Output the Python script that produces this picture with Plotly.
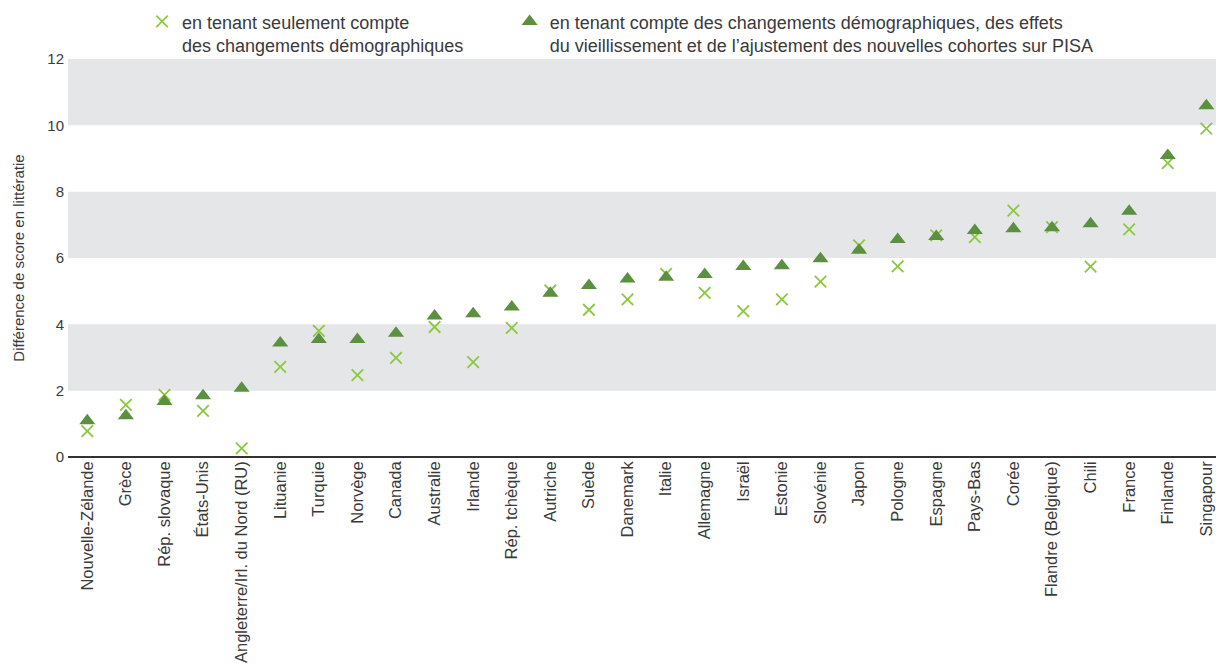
import plotly.graph_objects as go

countries = ["Nouvelle-Zélande", "Grèce", "Rép. slovaque", "États-Unis", "Angleterre/Irl. du Nord (RU)",
             "Lituanie", "Turquie", "Norvège", "Canada", "Australie", "Irlande", "Rép. tchèque",
             "Autriche", "Suède", "Danemark", "Italie", "Allemagne", "Israël", "Estonie", "Slovénie",
             "Japon", "Pologne", "Espagne", "Pays-Bas", "Corée", "Flandre (Belgique)", "Chili",
             "France", "Finlande", "Singapour"]

demo_only = [0.78, 1.57, 1.87, 1.39, 0.26, 2.72, 3.80, 2.47, 2.99, 3.92, 2.86, 3.89,
             5.02, 4.44, 4.75, 5.52, 4.95, 4.40, 4.75, 5.29, 6.38, 5.75, 6.68, 6.63,
             7.43, 6.93, 5.74, 6.86, 8.86, 9.90]
full_adj = [1.09, 1.24, 1.67, 1.85, 2.07, 3.44, 3.54, 3.54, 3.73, 4.25, 4.32, 4.52,
            4.94, 5.17, 5.37, 5.42, 5.50, 5.74, 5.77, 5.98, 6.23, 6.56, 6.65, 6.83,
            6.88, 6.91, 7.03, 7.41, 9.09, 10.59]

name_demo = "en tenant seulement compte<br>des changements démographiques"
name_full = ("en tenant compte des changements démographiques, des effets<br>"
             "du vieillissement et de l’ajustement des nouvelles cohortes sur PISA")

yticks = [0, 2, 4, 6, 8, 10, 12]
bands = [(2, 4), (6, 8), (10, 12)]

FONT = "Liberation Sans, Arial, sans-serif"
TXT = "#3a3a3a"

fig = go.Figure()
fig.add_trace(go.Scatter(
    x=countries, y=demo_only, mode="markers", name=name_demo, legend="legend",
    marker=dict(symbol="x-thin", size=11.5, line=dict(color="#8cc83f", width=1.8), color="#8cc83f"),
))
fig.add_trace(go.Scatter(
    x=countries, y=full_adj, mode="markers", name=name_full, legend="legend2",
    marker=dict(symbol="triangle-up", size=14, color="#5b9040", line=dict(width=0)),
))

for lo, hi in bands:
    fig.add_shape(type="rect", xref="paper", yref="y", x0=0, x1=1, y0=lo, y1=hi,
                  fillcolor="#e5e6e8", line=dict(width=0), layer="below")

leg_common = dict(orientation="v", yanchor="top", xanchor="left", valign="top",
                  font=dict(size=18, color=TXT, family=FONT), itemclick=False,
                  bgcolor="rgba(0,0,0,0)", borderwidth=0)

fig.update_layout(
    width=1208, height=658,
    margin=dict(l=60, r=0, t=51, b=209, autoexpand=False),
    paper_bgcolor="white", plot_bgcolor="white",
    font=dict(family=FONT, color=TXT, size=14),
    showlegend=True,
    legend=dict(x=0.0645, y=1.14, **leg_common),
    legend2=dict(x=0.3847, y=1.14, **leg_common),
    xaxis=dict(range=[-0.5, 29.25], tickangle=-90, showgrid=False, zeroline=False,
               showline=False, ticks="", tickfont=dict(size=16.5, color=TXT, family=FONT),
               automargin=False, fixedrange=True),
    yaxis=dict(range=[0, 12], tickvals=yticks, ticktext=[str(v) for v in yticks],
               showgrid=False, zeroline=True, zerolinecolor="#333333", zerolinewidth=1.5,
               showline=False, ticks="", tickfont=dict(size=15, color=TXT, family=FONT),
               ticklabelstandoff=3, automargin=False,
               title=dict(text="Différence de score en littératie", font=dict(size=15, color=TXT, family=FONT),
                          standoff=19),
               fixedrange=True),
)

fig.write_html("out.html")
